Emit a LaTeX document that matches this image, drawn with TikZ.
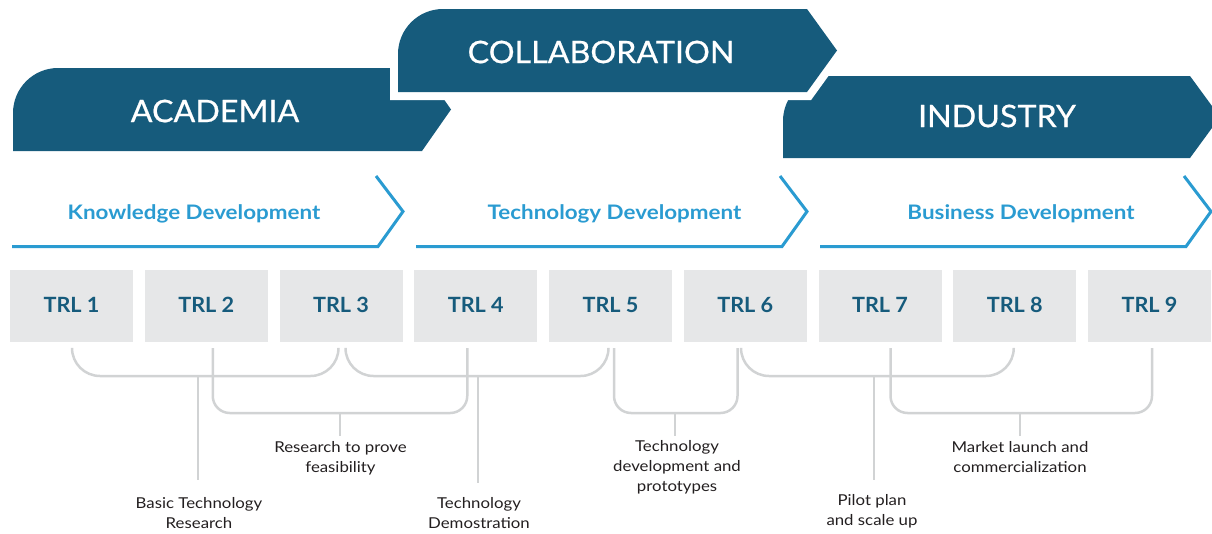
\documentclass[tikz,border=0pt]{standalone}
\usepackage{fontspec}
\setmainfont{Lato}
\newfontfamily\bannerfont[FakeStretch=1.04,FakeBold=0.6]{Lato}
\newfontfamily\phasefont[FakeStretch=1.12]{Lato}
\newfontfamily\levelfont[FakeStretch=1.03]{Lato}
\newfontfamily\stagefont[FakeStretch=1.12]{Lato}
\usetikzlibrary{calc}
\definecolor{navy}{HTML}{165B7C}
\definecolor{sky}{HTML}{2A9BD1}
\definecolor{boxgray}{HTML}{E6E7E8}
\definecolor{linegray}{HTML}{D1D3D4}
\definecolor{ink}{HTML}{231F20}
\begin{document}
\begin{tikzpicture}[x=1pt,y=-1pt,
  bannertext/.style={text=white,inner sep=0,font=\bannerfont\fontsize{31}{36}\selectfont},
  chev/.style={draw=sky,line width=3pt,line join=miter},
  chevtext/.style={text=sky,inner sep=0,anchor=base,font=\phasefont\fontsize{20}{24}\selectfont\bfseries},
  trl/.style={fill=boxgray,minimum width=123pt,minimum height=72pt,inner sep=0,
    text=navy,font=\levelfont\fontsize{21}{24}\selectfont\bfseries},
  bracket/.style={draw=linegray,line width=2.5pt},
  bigbracket/.style={bracket,rounded corners=28pt},
  smallbracket/.style={bracket,rounded corners=17pt},
  lbl/.style={text=ink,align=center,inner sep=0,font=\stagefont\fontsize{15}{20}\selectfont}]
\useasboundingbox (0,0) rectangle (1212,533);

% --- sector banners ---
\fill[navy] (13,151) -- (13,113) arc[start angle=180,end angle=270,radius=45]
  -- (422,68) -- (451,109.5) -- (422,151) -- cycle;
\fill[navy] (783,158) -- (783,121) arc[start angle=180,end angle=270,radius=45]
  -- (1190,76) -- (1220,117) -- (1190,158) -- cycle;
\fill[navy,preaction={draw=white,fill=white,line width=16pt,line join=miter}]
  (398,92) -- (398,54) arc[start angle=180,end angle=270,radius=45]
  -- (807,9) -- (837,50.5) -- (807,92) -- cycle;
\node[bannertext] (academia) at (215,111) {ACADEMIA};
\node[bannertext] (collab) at (601,52) {COLLABORATION};
\node[bannertext] (industry) at (997,116) {INDUSTRY};

% --- development phases ---
\foreach \x in {12,416,820}
  \draw[chev] (\x+364,176) -- (\x+391,211.5) -- (\x+366,246.5) -- (\x,246.5);
\node[chevtext] (know) at (194,219) {Knowledge Development};
\node[chevtext] (tech) at (614.5,219) {Technology Development};
\node[chevtext] (busi) at (1021,219) {Business Development};

% --- readiness levels ---
\foreach \i in {1,...,9}
  \node[trl] (t\i) at ({71.5+134.75*(\i-1)},306) {\raisebox{1.5pt}{TRL \i}};

% --- stage labels ---
\node[lbl] (lA) at (199,513) {Basic Technology\\Research};
\node[lbl] (lB) at (340.5,458) {Research to prove\\feasibility};
\node[lbl] (lC) at (479,513) {Technology\\Demostration};
\node[lbl] (lE) at (677,467.5) {Technology\\development and\\prototypes};
\node[lbl] (lD) at (872,511.5) {Pilot plan\\and scale up};
\node[lbl] (lF) at (1020,457.5) {Market launch and\\commercialization};

% --- brackets grouping the levels ---
\coordinate (jA) at (198,376);
\coordinate (jB) at (340,413);
\coordinate (jC) at (478,376);
\coordinate (jE) at (675,413);
\coordinate (jD) at (874,376);
\coordinate (jF) at (1020,413);

\draw[bigbracket] ([xshift=0.5pt,yshift=-6pt]t1.south) |- (jA) -| ([xshift=-2.5pt,yshift=-6pt]t3.south);
\draw[bigbracket] ([xshift=4.5pt,yshift=-6pt]t3.south) |- (jC) -| ([xshift=-2pt,yshift=-6pt]t5.south);
\draw[bigbracket] ([xshift=-4.25pt,yshift=-6pt]t6.south) |- (jD) -| ([xshift=-1pt,yshift=-6pt]t8.south);
\draw[smallbracket] ([xshift=6.5pt,yshift=-6pt]t2.south) |- (jB) -| ([xshift=-8.5pt,yshift=-6pt]t4.south);
\draw[smallbracket] ([xshift=3.5pt,yshift=-6pt]t5.south) |- (jE) -| ([xshift=-7.75pt,yshift=-6pt]t6.south);
\draw[smallbracket] ([xshift=10.5pt,yshift=-6pt]t7.south) |- (jF) -| ([xshift=2.5pt,yshift=-6pt]t9.south);

\draw[bracket] (jA) -- ++(0,104);
\draw[bracket] (jC) -- ++(0,107);
\draw[bracket] (jD) -- ++(0,104);
\draw[bracket] (jB) -- ++(0,23);
\draw[bracket] (jE) -- ++(0,23);
\draw[bracket] (jF) -- ++(0,23);
\end{tikzpicture}
\end{document}
